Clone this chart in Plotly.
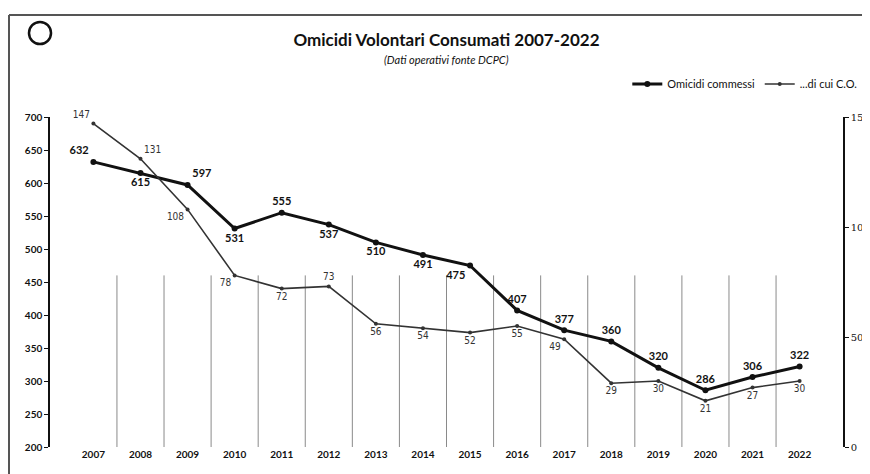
import plotly.graph_objects as go

years = [str(y) for y in range(2007, 2023)]
omicidi = [632, 615, 597, 531, 555, 537, 510, 491, 475, 407, 377, 360, 320, 286, 306, 322]
di_cui_co = [147, 131, 108, 78, 72, 73, 56, 54, 52, 55, 49, 29, 30, 21, 27, 30]

om_pos = ["top left", "bottom center", "top right", "bottom center", "top center", "bottom center",
          "bottom center", "bottom center", "bottom left", "top center", "top center", "top center",
          "top center", "top center", "top center", "top center"]
co_pos = ["top left", "top right", "bottom left", "bottom left", "bottom center", "top center",
          "bottom center", "bottom center", "bottom center", "bottom center", "bottom left",
          "bottom center", "bottom center", "bottom center", "bottom center", "bottom center"]

FONT = "Lato"

fig = go.Figure()
fig.add_trace(go.Scatter(
    x=years, y=omicidi, name="Omicidi commessi", mode="lines+markers+text", legend="legend",
    line=dict(color="#111111", width=3), marker=dict(size=6, color="#111111"),
    text=[str(v) for v in omicidi], textposition=om_pos,
    textfont=dict(family=FONT, size=11, color="#111111", weight="bold"),
    cliponaxis=False,
))
fig.add_trace(go.Scatter(
    x=years, y=di_cui_co, name="...di cui C.O.", mode="lines+markers+text", yaxis="y2",
    legend="legend2",
    line=dict(color="#333333", width=1.6), marker=dict(size=4, color="#333333"),
    text=[str(v) for v in di_cui_co], textposition=co_pos,
    textfont=dict(family="DejaVu Sans Condensed", size=10, color="#333333"),
    cliponaxis=False,
))

shapes = []
for i in range(1, len(years)):
    shapes.append(dict(type="line", xref="x", yref="y", x0=i - 0.5, x1=i - 0.5, y0=200, y1=460,
                       line=dict(color="#8a8a8a", width=1), layer="below"))
# frame (top and left edges)
shapes.append(dict(type="line", xref="paper", yref="paper", x0=-0.0517, x1=1.2, y0=1.309, y1=1.309,
                   line=dict(color="#555555", width=2)))
shapes.append(dict(type="line", xref="paper", yref="paper", x0=-0.0517, x1=-0.0517, y0=-0.2, y1=1.309,
                   line=dict(color="#555555", width=2)))
# logo circle
shapes.append(dict(type="circle", xref="paper", yref="paper", x0=-0.0265, x1=0.0013, y0=1.221, y1=1.288,
                   line=dict(color="#111111", width=2.5)))

legend_common = dict(orientation="h", xanchor="left", y=1.1, yanchor="middle",
                     font=dict(family=FONT, size=11, color="#111111"), bgcolor="rgba(0,0,0,0)",
                     itemwidth=30)

fig.update_layout(
    width=862, height=466,
    margin=dict(l=42, r=27, t=109, b=27, autoexpand=False),
    paper_bgcolor="white", plot_bgcolor="white",
    showlegend=True,
    legend=dict(x=0.728, **legend_common),
    legend2=dict(x=0.895, **legend_common),
    title=dict(text="<b>Omicidi Volontari Consumati 2007-2022</b>", x=0.5, xref="paper", y=0.931,
               yanchor="middle", font=dict(family=FONT, size=17, color="#111111")),
    annotations=[dict(text="<i>(Dati operativi fonte DCPC)</i>", xref="paper", yref="paper",
                      x=0.5, y=1.173, yanchor="middle", showarrow=False,
                      font=dict(family=FONT, size=11, color="#111111"))],
    shapes=shapes,
    xaxis=dict(type="category", showgrid=False, showline=False, ticks="",
               tickfont=dict(family=FONT, size=10, color="#111111", weight="bold")),
    yaxis=dict(range=[200, 700], dtick=50, showgrid=False, showline=True, linecolor="#111111",
               linewidth=1.5, ticks="outside", ticklen=4, tickcolor="#111111", zeroline=False,
               tickfont=dict(family=FONT, size=10, color="#111111", weight="bold")),
    yaxis2=dict(range=[0, 150], dtick=50, overlaying="y", side="right", showgrid=False,
                showline=True, linecolor="#111111", linewidth=1.5, ticks="outside", ticklen=4,
                tickcolor="#111111", zeroline=False,
                tickfont=dict(family="DejaVu Serif", size=10, color="#111111")),
)

fig.write_html("out.html")
